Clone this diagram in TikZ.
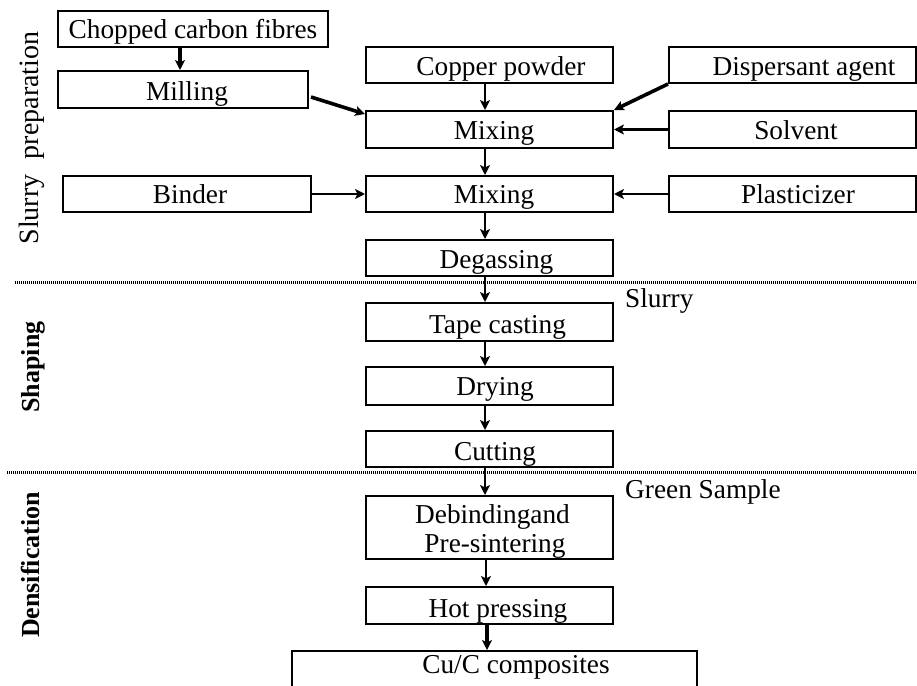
\documentclass[tikz,border=0pt]{standalone}
\usepackage{fontspec}
\setmainfont{Liberation Serif}
\usetikzlibrary{arrows.meta}
\begin{document}
\begin{tikzpicture}[x=1pt,y=-1pt,
  box/.style={draw, line width=2pt, inner sep=0pt, minimum width=247pt, minimum height=36pt},
  txt/.style={font=\fontsize{27.3}{31}\selectfont, inner sep=0pt, anchor=base},
  lbl/.style={font=\fontsize{28}{31}\selectfont, inner sep=0pt, anchor=base, rotate=90},
  tip/.style={-{Stealth[length=10pt,width=10pt,inset=2.5pt]}},
  arr/.style={tip, line width=2.8pt},
  thk/.style={tip, line width=3.6pt},
  sep/.style={line width=3pt, dash pattern=on 1.2pt off 0.8pt}]
\useasboundingbox (0,0) rectangle (917,685);
\coordinate (ax) at (485,0);
\coordinate (cx) at (180,0);
% left column
\node[box, minimum width=270pt] (chop) at (193,29) {};
\node[box, minimum width=250pt, minimum height=37pt] (mill) at (183,89.5) {};
\node[box, minimum width=248pt] (binder) at (187,194) {};
% centre column
\node[box] (copper) at (489.5,65) {};
\node[box, minimum height=37pt] (mix1) at (489.5,129.5) {};
\node[box] (mix2) at (489.5,194) {};
\node[box] (degas) at (489.5,258) {};
\node[box, minimum height=38pt] (tape) at (489.5,322) {};
\node[box, minimum height=38pt] (dry) at (489.5,386) {};
\node[box] (cut) at (489.5,449) {};
\node[box, minimum height=63pt] (debind) at (489.5,527.5) {};
\node[box, minimum height=37pt] (hot) at (489.5,605.5) {};
\node[box, minimum width=405pt, minimum height=44pt] (cuc) at (494.5,673) {};
% right column
\node[box] (disp) at (792.5,65) {};
\node[box, minimum height=37pt] (solv) at (792.5,129.5) {};
\node[box] (plast) at (792.5,194) {};
% texts
\node[txt] (tchop) at (193,38) {Chopped carbon fibres};
\node[txt] (tmill) at (187,100) {Milling};
\node[txt] (tbinder) at (190,203) {Binder};
\node[txt] (tcopper) at (501,75) {Copper powder};
\node[txt] (tmix1) at (494,139) {Mixing};
\node[txt] (tmix2) at (494,203) {Mixing};
\node[txt] (tdegas) at (496.5,268) {Degassing};
\node[txt] (ttape) at (497.5,333) {Tape casting};
\node[txt] (tdry) at (495,395) {Drying};
\node[txt] (tcut) at (495,460) {Cutting};
\node[txt] (tdeb1) at (492.5,523) {Debindingand};
\node[txt] (tdeb2) at (495,552) {Pre-sintering};
\node[txt] (thot) at (498,617) {Hot pressing};
\node[txt] (tcuc) at (516,673) {Cu/C composites};
\node[txt] (tdisp) at (804,75) {Dispersant agent};
\node[txt] (tsolv) at (796,139) {Solvent};
\node[txt] (tplast) at (798,203) {Plasticizer};
\node[txt, anchor=base west] (tslurry) at (625,307) {Slurry};
\node[txt, anchor=base west] (tgreen) at (625,498) {Green Sample};
% side labels
\node[lbl] (lslurry) at (38,138) {Slurry\hspace{0.55em}preparation};
\node[lbl, font=\fontsize{26}{29}\selectfont\bfseries] (lshape) at (39,367) {Shaping};
\node[lbl, font=\fontsize{26}{29}\selectfont\bfseries] (ldens) at (39,565) {Densification};
% separators
\coordinate (s1a) at (15,282); \coordinate (s1b) at (917,282);
\coordinate (s2a) at (7,472);  \coordinate (s2b) at (917,472);
\draw[sep] (s1a) -- (s1b);
\draw[sep] (s2a) -- (s2b);
% connectors
\draw[thk] (chop.south -| cx) -- (mill.north -| cx);
\draw[thk] ([xshift=2pt,yshift=-7.5pt]mill.east) -- ([yshift=-4pt]mix1.north west);
\draw[thk] (disp.south west) -- (mix1.north east);
\draw[arr] (solv.west) -- (mix1.east);
\draw[arr] (plast.west) -- (mix2.east);
\draw[arr] (binder.east) -- (mix2.west);
\draw[arr] (copper.south -| ax) -- (mix1.north -| ax);
\draw[arr] (mix1.south -| ax) -- (mix2.north -| ax);
\draw[arr] (mix2.south -| ax) -- (degas.north -| ax);
\draw[arr] (degas.south -| ax) -- (tape.north -| ax);
\draw[arr] (tape.south -| ax) -- (dry.north -| ax);
\draw[arr] (dry.south -| ax) -- (cut.north -| ax);
\draw[arr] (cut.south -| ax) -- (debind.north -| ax);
\draw[arr] ([xshift=1pt]debind.south -| ax) -- ([xshift=1pt]hot.north -| ax);
\draw[tip, line width=4pt] ([xshift=2pt]hot.south -| ax) -- ([xshift=2pt]cuc.north -| ax);
\end{tikzpicture}
\end{document}
